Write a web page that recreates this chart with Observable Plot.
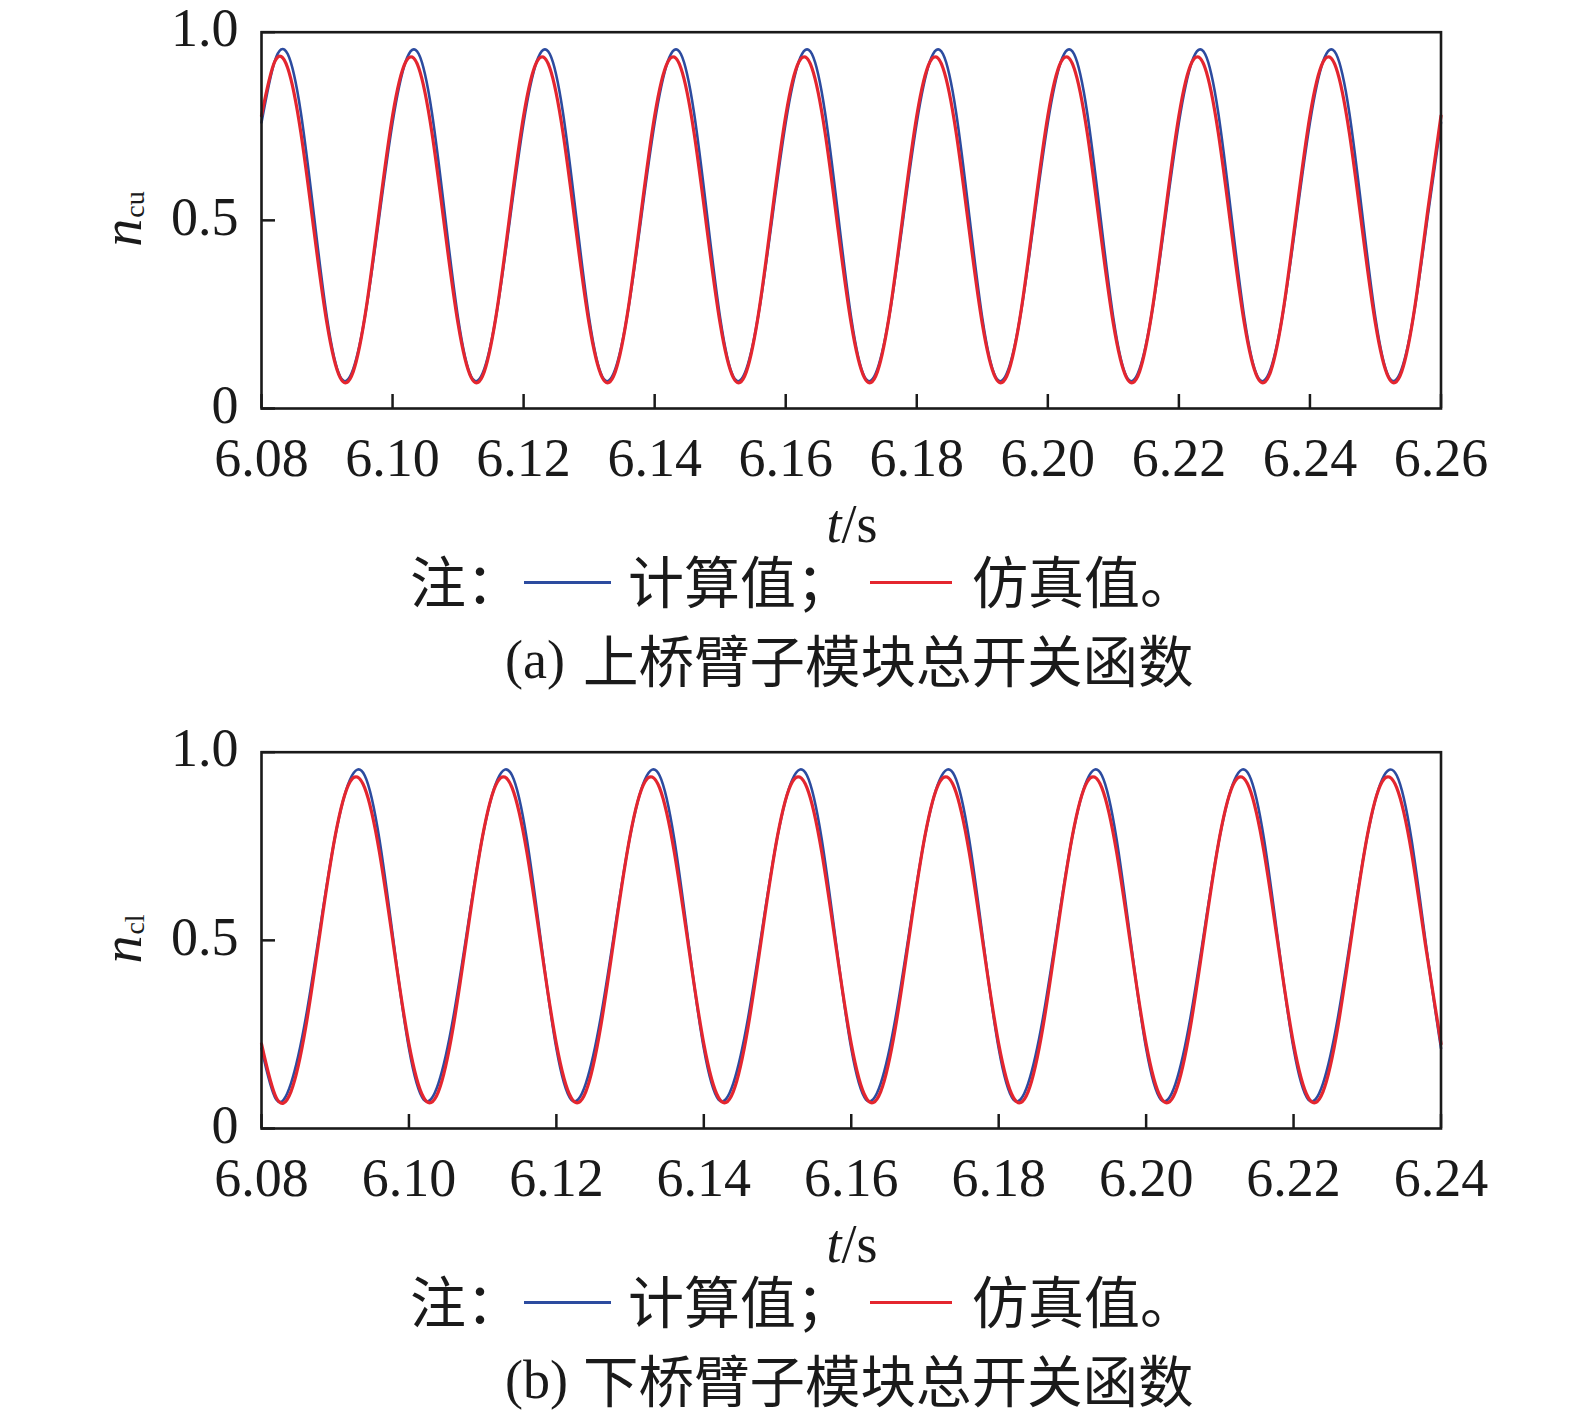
<!DOCTYPE html>
<html>
<head>
<meta charset="utf-8">
<script src="https://cdn.jsdelivr.net/npm/d3@7"></script>
<script src="https://cdn.jsdelivr.net/npm/@observablehq/plot@0.6"></script>
<style>
  html, body { margin: 0; padding: 0; background: #fff; }
  #root { position: relative; width: 1575px; height: 1411px; background: #fff; overflow: hidden; }
  .abs { position: absolute; white-space: nowrap; line-height: 0.8; color: #1a1a1a; }
  .lat { font-family: "Liberation Serif", "Times New Roman", serif; }
  .cjk { font-family: "Noto Sans CJK SC", sans-serif; }
  .seg { position: absolute; height: 3px; }
</style>
</head>
<body>
<div id="root"></div>
<script>
// ---------------- data ----------------
const topTime = [
  6.080,6.082,6.084,6.086,6.088,6.090,6.092,6.094,6.096,6.098,
  6.100,6.102,6.104,6.106,6.108,6.110,6.112,6.114,6.116,6.118,
  6.120,6.122,6.124,6.126,6.128,6.130,6.132,6.134,6.136,6.138,
  6.140,6.142,6.144,6.146,6.148,6.150,6.152,6.154,6.156,6.158,
  6.160,6.162,6.164,6.166,6.168,6.170,6.172,6.174,6.176,6.178,
  6.180,6.182,6.184,6.186,6.188,6.190,6.192,6.194,6.196,6.198,
  6.200,6.202,6.204,6.206,6.208,6.210,6.212,6.214,6.216,6.218,
  6.220,6.222,6.224,6.226,6.228,6.230,6.232,6.234,6.236,6.238,
  6.240,6.242,6.244,6.246,6.248,6.250,6.252,6.254,6.256,6.258,
  6.260];
// upper arm: calculated (blue)
const topCalc = [
  0.760,0.922,0.942,0.787,0.514,0.240,0.085,0.105,0.267,0.514,
  0.760,0.922,0.942,0.787,0.514,0.240,0.085,0.105,0.267,0.514,
  0.760,0.922,0.942,0.787,0.514,0.240,0.085,0.105,0.267,0.514,
  0.760,0.922,0.942,0.787,0.514,0.240,0.085,0.105,0.267,0.514,
  0.760,0.922,0.942,0.787,0.514,0.240,0.085,0.105,0.267,0.514,
  0.760,0.922,0.942,0.787,0.514,0.240,0.085,0.105,0.267,0.514,
  0.760,0.922,0.942,0.787,0.514,0.240,0.085,0.105,0.267,0.514,
  0.760,0.922,0.942,0.787,0.514,0.240,0.085,0.105,0.267,0.514,
  0.760,0.922,0.942,0.787,0.514,0.240,0.085,0.105,0.267,0.514,
  0.760];
// upper arm: simulated (red)
const topSim = [
  0.778,0.921,0.905,0.734,0.474,0.225,0.082,0.098,0.269,0.529,
  0.778,0.921,0.905,0.734,0.474,0.225,0.082,0.098,0.269,0.529,
  0.778,0.921,0.905,0.734,0.474,0.225,0.082,0.098,0.269,0.529,
  0.778,0.921,0.905,0.734,0.474,0.225,0.082,0.098,0.269,0.529,
  0.778,0.921,0.905,0.734,0.474,0.225,0.082,0.098,0.269,0.529,
  0.778,0.921,0.905,0.734,0.474,0.225,0.082,0.098,0.269,0.529,
  0.778,0.921,0.905,0.734,0.474,0.225,0.082,0.098,0.269,0.529,
  0.778,0.921,0.905,0.734,0.474,0.225,0.082,0.098,0.269,0.529,
  0.778,0.921,0.905,0.734,0.474,0.225,0.082,0.098,0.269,0.529,
  0.778];

const botTime = [
  6.080,6.082,6.084,6.086,6.088,6.090,6.092,6.094,6.096,6.098,
  6.100,6.102,6.104,6.106,6.108,6.110,6.112,6.114,6.116,6.118,
  6.120,6.122,6.124,6.126,6.128,6.130,6.132,6.134,6.136,6.138,
  6.140,6.142,6.144,6.146,6.148,6.150,6.152,6.154,6.156,6.158,
  6.160,6.162,6.164,6.166,6.168,6.170,6.172,6.174,6.176,6.178,
  6.180,6.182,6.184,6.186,6.188,6.190,6.192,6.194,6.196,6.198,
  6.200,6.202,6.204,6.206,6.208,6.210,6.212,6.214,6.216,6.218,
  6.220,6.222,6.224,6.226,6.228,6.230,6.232,6.234,6.236,6.238,
  6.240];
// lower arm: calculated (blue)
const botCalc = [
  0.213,0.077,0.120,0.293,0.539,0.777,0.927,0.938,0.768,0.483,
  0.213,0.077,0.120,0.293,0.539,0.777,0.927,0.938,0.768,0.483,
  0.213,0.077,0.120,0.293,0.539,0.777,0.927,0.938,0.768,0.483,
  0.213,0.077,0.120,0.293,0.539,0.777,0.927,0.938,0.768,0.483,
  0.213,0.077,0.120,0.293,0.539,0.777,0.927,0.938,0.768,0.483,
  0.213,0.077,0.120,0.293,0.539,0.777,0.927,0.938,0.768,0.483,
  0.213,0.077,0.120,0.293,0.539,0.777,0.927,0.938,0.768,0.483,
  0.213,0.077,0.120,0.293,0.539,0.777,0.927,0.938,0.768,0.483,
  0.213];
// lower arm: simulated (red)
const botSim = [
  0.225,0.082,0.098,0.269,0.529,0.778,0.921,0.905,0.734,0.474,
  0.225,0.082,0.098,0.269,0.529,0.778,0.921,0.905,0.734,0.474,
  0.225,0.082,0.098,0.269,0.529,0.778,0.921,0.905,0.734,0.474,
  0.225,0.082,0.098,0.269,0.529,0.778,0.921,0.905,0.734,0.474,
  0.225,0.082,0.098,0.269,0.529,0.778,0.921,0.905,0.734,0.474,
  0.225,0.082,0.098,0.269,0.529,0.778,0.921,0.905,0.734,0.474,
  0.225,0.082,0.098,0.269,0.529,0.778,0.921,0.905,0.734,0.474,
  0.225,0.082,0.098,0.269,0.529,0.778,0.921,0.905,0.734,0.474,
  0.225];

const topXTicks = [6.08,6.10,6.12,6.14,6.16,6.18,6.20,6.22,6.24,6.26];
const botXTicks = [6.08,6.10,6.12,6.14,6.16,6.18,6.20,6.22,6.24];
const yTicks = [0, 0.5, 1.0];

const legendNote = "注：";
const legendCalc = "计算值；";
const legendSim = "仿真值。";
const captionTopTag = "(a)";
const captionBotTag = "(b)";
const captionTopText = "上桥臂子模块总开关函数";
const captionBotText = "下桥臂子模块总开关函数";
const yLabelTop = "cu";
const yLabelBot = "cl";

// ---------------- style ----------------
const BLUE = "#2c4b9f";
const RED = "#e4262f";
const INK = "#1a1a1a";

const W = 1575, H = 490;
const mL = 261, mR = 134.5, mT = 31.7, mB = H - 408;
const frameW = W - mL - mR, frameH = H - mT - mB;
const TICK = 14;

function panel(time, calc, sim, xTicks) {
  const rows = time.map((t, i) => ({t, calc: calc[i], sim: sim[i]}));
  const fmtY = d => d === 0 ? "0" : d.toFixed(1);
  return Plot.plot({
    width: W, height: H,
    marginLeft: mL, marginRight: mR, marginTop: mT, marginBottom: mB,
    x: {domain: [xTicks[0], xTicks[xTicks.length - 1]]},
    y: {domain: [0, 1]},
    style: {fontFamily: '"Liberation Serif", "Times New Roman", serif', fontSize: "54px", color: INK, background: "transparent", overflow: "visible"},
    marks: [
      Plot.axisX(xTicks, {tickSize: 0, tickPadding: 29, tickFormat: d3.format(".2f"), label: null, fontSize: 54}),
      Plot.axisY(yTicks, {tickSize: 0, tickPadding: 23, tickFormat: fmtY, label: null, fontSize: 54, dy: -3}),
      Plot.tickX(xTicks, {x: d => d, insetTop: frameH - TICK, stroke: INK, strokeWidth: 2.5}),
      Plot.tickY(yTicks, {y: d => d, insetRight: frameW - TICK, stroke: INK, strokeWidth: 2.5}),
      Plot.lineY(rows, {x: "t", y: "calc", stroke: BLUE, strokeWidth: 2.6, curve: "natural"}),
      Plot.lineY(rows, {x: "t", y: "sim", stroke: RED, strokeWidth: 3.2, curve: "natural"}),
      Plot.frame({stroke: INK, strokeWidth: 2.6})
    ]
  });
}

const root = document.getElementById("root");

function addEl(html, cls, css) {
  const d = document.createElement("div");
  d.className = "abs " + cls;
  d.innerHTML = html;
  Object.assign(d.style, css);
  root.appendChild(d);
  return d;
}
function addSeg(color, left, top, width) {
  const s = document.createElement("div");
  s.className = "seg";
  Object.assign(s.style, {left: left + "px", top: top + "px", width: width + "px", background: color});
  root.appendChild(s);
}

function block(offset, time, calc, sim, xTicks, sub, tag, text) {
  const holder = document.createElement("div");
  holder.style.position = "absolute";
  holder.style.left = "0px";
  holder.style.top = offset + "px";
  holder.appendChild(panel(time, calc, sim, xTicks));
  root.appendChild(holder);

  // y label (rotated)
  addEl(`<span style="font-style:italic;font-size:56px">n</span><span style="font-size:28px;position:relative;top:3px;margin-left:1px">${sub}</span>`, "lat",
    {left: "122px", top: (offset + 219) + "px", transform: "translate(-50%,-50%) rotate(-90deg)"});

  // x label
  addEl(`<i>t</i>/s`, "lat", {left: "852px", top: (offset + 525) + "px", fontSize: "54px", transform: "translate(-50%,-50%)"});

  // legend
  const ly = offset + 579;
  addEl(legendNote, "cjk", {left: "410px", top: ly + "px", fontSize: "56px", transform: "translateY(-50%)"});
  addSeg(BLUE, 524, offset + 580.5, 87);
  addEl(legendCalc, "cjk", {left: "628px", top: ly + "px", fontSize: "56px", transform: "translateY(-50%)"});
  addSeg(RED, 870, offset + 580.5, 82);
  addEl(legendSim, "cjk", {left: "972px", top: ly + "px", fontSize: "56px", transform: "translateY(-50%)"});

  // caption
  addEl(tag, "lat", {left: "505px", top: (offset + 661) + "px", fontSize: "54px", transform: "translateY(-50%)"});
  addEl(text, "cjk", {left: "583px", top: (offset + 658) + "px", fontSize: "55.5px", transform: "translateY(-50%)"});
}

block(0, topTime, topCalc, topSim, topXTicks, yLabelTop, captionTopTag, captionTopText);
block(720, botTime, botCalc, botSim, botXTicks, yLabelBot, captionBotTag, captionBotText);
</script>
</body>
</html>
